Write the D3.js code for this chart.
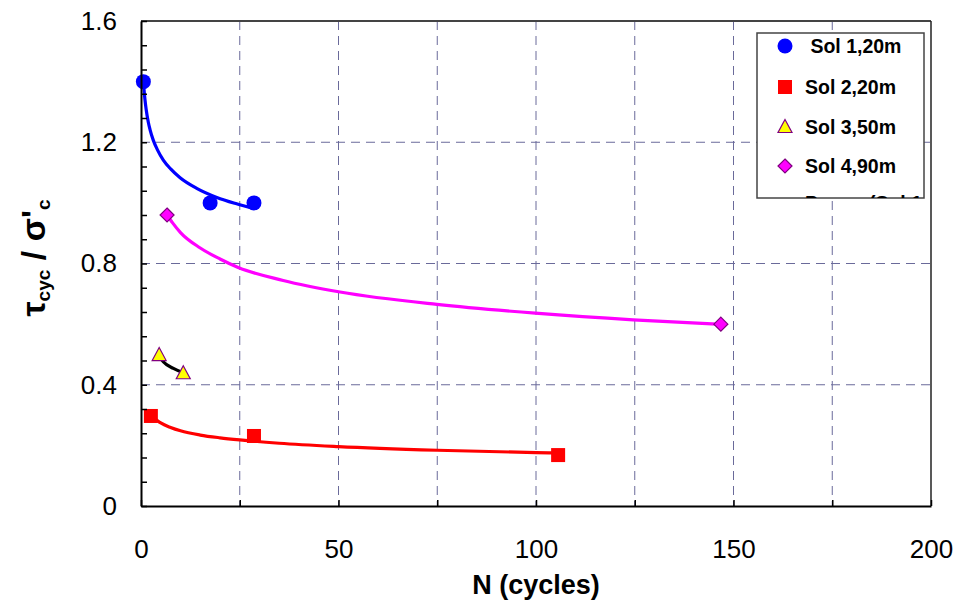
<!DOCTYPE html>
<html><head><meta charset="utf-8">
<script src="https://cdn.jsdelivr.net/npm/d3@7"></script>
<style>body{margin:0;background:#fff}svg{display:block}text{font-family:"Liberation Sans",Arial,sans-serif}</style>
</head><body><svg id="c" width="959" height="602"></svg>
<script>
// ---- data ----
const seriesNames = [" Sol 1,20m", "Sol 2,20m", "Sol 3,50m", "Sol 4,90m"];
const trendName = "Power (Sol 1,20m)";
const sol1N = [0.6, 17.5, 28.6];
const sol1T = [1.40, 1.00, 1.00];
const sol2N = [2.5, 28.6, 105.6];
const sol2T = [0.297, 0.231, 0.168];
const sol3N = [4.6, 10.7];
const sol3T = [0.498, 0.438];
const sol4N = [6.6, 146.8];
const sol4T = [0.96, 0.60];
// fitted trend lines
const fit1N = [0.6, 0.7, 0.8, 1.0, 1.3, 1.85, 2.3, 3.1, 4.2, 5.65, 7.5, 9.9, 14.1, 19.2, 24.2, 28.4];
const fit1T = [1.405, 1.386, 1.369, 1.341, 1.309, 1.266, 1.241, 1.207, 1.174, 1.141, 1.112, 1.083, 1.048, 1.018, 0.997, 0.982];
const fit2N = [3.1, 5, 7.5, 10, 15, 20, 25, 35, 50, 75, 100, 104.5];
const fit2T = [0.293, 0.274, 0.259, 0.248, 0.234, 0.225, 0.218, 0.207, 0.196, 0.184, 0.176, 0.175];
const fit3N = [4.6, 5.65, 8.2, 10.7];
const fit3T = [0.495, 0.476, 0.454, 0.440];
const fit4N = [6.6, 8, 10, 14.9, 20, 24.6, 36, 50.4, 74.9, 99.8, 124.6, 145.8];
const fit4T = [0.96, 0.934, 0.902, 0.852, 0.815, 0.787, 0.744, 0.706, 0.665, 0.636, 0.614, 0.600];
const xTicks = [0, 50, 100, 150, 200];
const xTickLabels = ["0", "50", "100", "150", "200"];
const yTicks = [0, 0.4, 0.8, 1.2, 1.6];
const yTickLabels = ["0", "0.4", "0.8", "1.2", "1.6"];
const xGrid = [25, 50, 75, 100, 125, 150, 175];
const yGrid = [0.4, 0.8, 1.2];
const xMinor = d3.range(0, 201, 25);
const yMinor = d3.range(0, 1.601, 0.08);

// ---- chart ----
const svg = d3.select("#c");
const L = 141, R = 931, T = 21, B = 506;
const x = d3.scaleLinear().domain([0, 200]).range([L, R]);
const y = d3.scaleLinear().domain([0, 1.6]).range([B, T]);
const gridCol = "#6a6a9a";

// grid
svg.append("g").selectAll("line").data(xGrid).join("line")
  .attr("x1", d => x(d)).attr("x2", d => x(d)).attr("y1", T).attr("y2", B)
  .attr("stroke", gridCol).attr("stroke-width", 1).attr("stroke-dasharray", "9,6");
svg.append("g").selectAll("line").data(yGrid).join("line")
  .attr("y1", d => y(d)).attr("y2", d => y(d)).attr("x1", L).attr("x2", R)
  .attr("stroke", gridCol).attr("stroke-width", 1).attr("stroke-dasharray", "9,6");

// frame top / right
svg.append("line").attr("x1", L).attr("x2", R).attr("y1", T).attr("y2", T)
  .attr("stroke", "#444").attr("stroke-width", 2);
svg.append("line").attr("x1", R).attr("x2", R).attr("y1", T).attr("y2", B)
  .attr("stroke", "#222").attr("stroke-width", 1.5);

// trend lines
const line = d3.line().x(d => x(d[0])).y(d => y(d[1])).curve(d3.curveMonotoneX);
const fits = [
  {n: fit1N, t: fit1T, c: "#0000ff"},
  {n: fit2N, t: fit2T, c: "#ff0000"},
  {n: fit3N, t: fit3T, c: "#000000"},
  {n: fit4N, t: fit4T, c: "#ff00ff"}
];
fits.forEach(f => {
  svg.append("path").datum(f.n.map((v, i) => [v, f.t[i]]))
    .attr("d", line).attr("fill", "none").attr("stroke", f.c).attr("stroke-width", 3.2)
    .attr("stroke-linecap", "round");
});

// marker drawing helpers
function marker(g, type, cx, cy) {
  if (type === 0) g.append("circle").attr("cx", cx).attr("cy", cy).attr("r", 7.5).attr("fill", "#0000ff");
  else if (type === 1) g.append("rect").attr("x", cx - 7).attr("y", cy - 7).attr("width", 14).attr("height", 14).attr("fill", "#ff0000");
  else if (type === 2) g.append("path").attr("d", `M${cx},${cy - 7.5}L${cx + 7},${cy + 5.5}L${cx - 7},${cy + 5.5}Z`)
    .attr("fill", "#ffff00").attr("stroke", "#800080").attr("stroke-width", 1.2);
  else g.append("path").attr("d", `M${cx},${cy - 7}L${cx + 7},${cy}L${cx},${cy + 7}L${cx - 7},${cy}Z`)
    .attr("fill", "#ff00ff").attr("stroke", "#800080").attr("stroke-width", 1.2);
}
const series = [[sol1N, sol1T], [sol2N, sol2T], [sol3N, sol3T], [sol4N, sol4T]];
const mg = svg.append("g");
series.forEach((s, k) => s[0].forEach((n, i) => marker(mg, k, x(n), y(s[1][i]))));

// axes
const yAx = svg.append("g").attr("transform", `translate(${L},0)`)
  .call(d3.axisLeft(y).tickValues(yMinor).tickSizeInner(-6).tickSizeOuter(0).tickFormat(""));
yAx.select(".domain").attr("stroke", "#000").attr("stroke-width", 2);
yAx.selectAll(".tick line").attr("stroke", "#000").attr("stroke-width", 1.5);
const xAx = svg.append("g").attr("transform", `translate(0,${B})`)
  .call(d3.axisBottom(x).tickValues(xMinor).tickSizeInner(-6).tickSizeOuter(0).tickFormat(""));
xAx.select(".domain").attr("stroke", "#000").attr("stroke-width", 2);
xAx.selectAll(".tick line").attr("stroke", "#000").attr("stroke-width", 1.5);

const yLab = svg.append("g").attr("transform", `translate(${L},0)`)
  .call(d3.axisLeft(y).tickValues(yTicks).tickSize(0).tickPadding(24).tickFormat((d, i) => yTickLabels[i]));
yLab.select(".domain").remove();
yLab.selectAll("text").attr("font-size", 26).attr("fill", "#000").attr("font-family", "Liberation Sans, Arial");
const xLab = svg.append("g").attr("transform", `translate(0,${B})`)
  .call(d3.axisBottom(x).tickValues(xTicks).tickSize(0).tickPadding(34).tickFormat((d, i) => xTickLabels[i]));
xLab.select(".domain").remove();
xLab.selectAll("text").attr("font-size", 26).attr("fill", "#000").attr("font-family", "Liberation Sans, Arial");

// axis titles
svg.append("text").attr("x", 536).attr("y", 594).attr("text-anchor", "middle")
  .attr("font-size", 27).attr("font-weight", "bold").text("N (cycles)");
const yt = svg.append("text").attr("transform", "translate(45,258) rotate(-90)")
  .attr("text-anchor", "middle").attr("font-weight", "bold");
yt.append("tspan").attr("font-size", 34).text("τ");
yt.append("tspan").attr("font-size", 19).attr("dy", 5).text("cyc");
yt.append("tspan").attr("font-size", 34).attr("dy", -5).text(" / σ'");
yt.append("tspan").attr("font-size", 19).attr("dy", 5).text("c");

// legend
const lg = {x: 757, y: 33, w: 167, h: 165};
svg.append("clipPath").attr("id", "lgclip").append("rect")
  .attr("x", lg.x).attr("y", lg.y).attr("width", lg.w).attr("height", lg.h);
svg.append("rect").attr("x", lg.x).attr("y", lg.y).attr("width", lg.w).attr("height", lg.h)
  .attr("fill", "#fff").attr("stroke", "#444").attr("stroke-width", 1.5);
const lgG = svg.append("g").attr("clip-path", "url(#lgclip)");
const legY = [46, 87, 127, 166];
seriesNames.forEach((nm, i) => {
  marker(lgG, i, 785, legY[i]);
  lgG.append("text").attr("x", 805).attr("y", legY[i] + 7).attr("font-size", 19.5)
    .attr("font-weight", "bold").style("white-space", "pre").text(nm);
});
lgG.append("text").attr("x", 805).attr("y", 210).attr("font-size", 19.5)
  .attr("font-weight", "bold").text(trendName);
</script></body></html>
